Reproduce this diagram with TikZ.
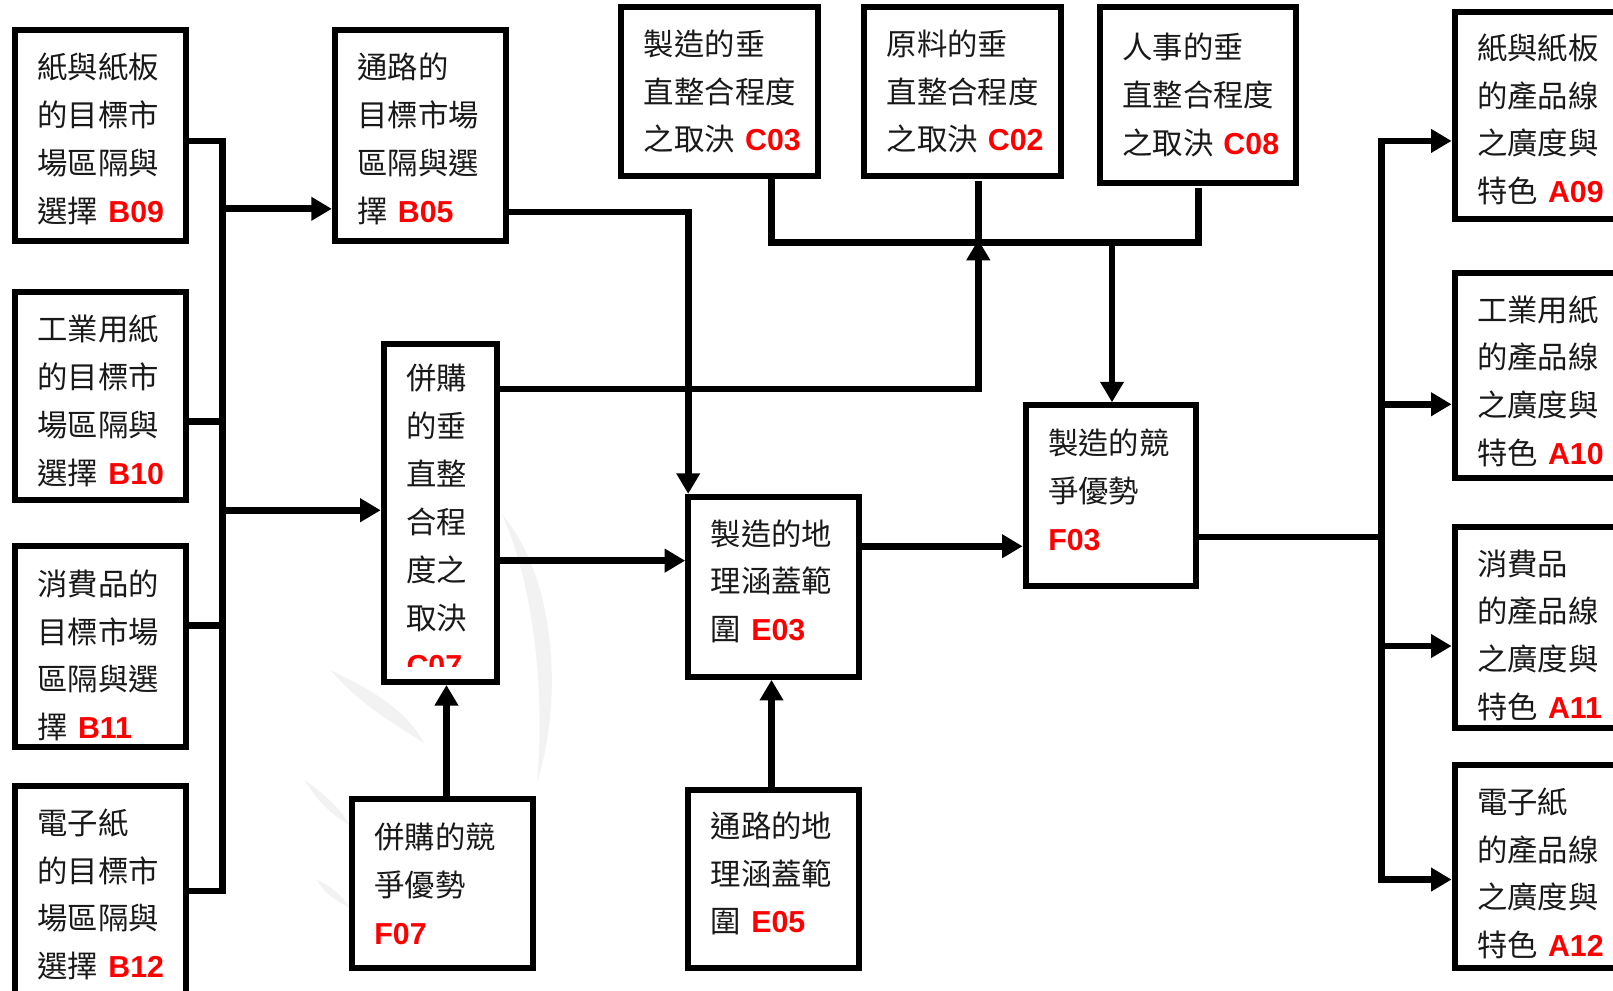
\documentclass[tikz,border=0pt]{standalone}
\usepackage{fontspec}
\setmainfont{Noto Sans CJK TC}
\newfontfamily\codefont{Liberation Sans}
\usetikzlibrary{arrows.meta}
\definecolor{codered}{RGB}{255,0,0}
\definecolor{txt}{RGB}{25,25,25}
\definecolor{wm}{RGB}{242,242,242}
\newcommand\code[1]{{\codefont\bfseries\color{codered}#1}}
\newcommand\hgt[1]{\rule{0pt}{#1pt}}
\newcommand\dpt[1]{\rule[-#1pt]{0pt}{#1pt}}
\tikzset{
  box/.style={draw, line width=5.8pt, rectangle, inner sep=0pt, align=left,
    font=\fontsize{29.5}{46.5}\selectfont, text=txt, fill=white},
  txtonly/.style={inner sep=0pt, align=left, font=\fontsize{29.5}{46.5}\selectfont, text=txt},
  link/.style={line width=6.5pt, line cap=rect},
  arr/.style={line width=6.5pt, -{Triangle[length=20pt,width=22pt]}},
}
\newcommand\mybox[6]{%
  \pgfmathsetmacro\bw{#4-#2}\pgfmathsetmacro\bh{#5-#3}\pgfmathsetmacro\tw{#4-#2-44}%
  \node[box, minimum width=\bw pt, minimum height=\bh pt, text width=\tw pt] (#1) at ({(#2+#4)/2},{(#3+#5)/2}) {#6};}
\begin{document}
\begin{tikzpicture}[x=1pt,y=-1pt]
\useasboundingbox (0,0) rectangle (1568,963);
\clip (0,0) rectangle (1568,963);
\fill[white] (0,0) rectangle (1568,963);
% faint watermark
\fill[wm] (488,500) .. controls (540,560) and (548,680) .. (522,760)
  .. controls (530,680) and (520,570) .. (488,500) -- cycle;
\fill[wm] (322,652) .. controls (360,670) and (395,690) .. (412,722)
  .. controls (385,705) and (350,685) .. (322,652) -- cycle;
\fill[wm] (296,758) .. controls (315,772) and (330,785) .. (340,802)
  .. controls (322,792) and (308,778) .. (296,758) -- cycle;
\fill[wm] (308,855) .. controls (322,862) and (332,870) .. (340,882)
  .. controls (326,876) and (315,868) .. (308,855) -- cycle;
% boxes
\mybox{B09}{14.5}{29}{181}{234}{\hgt{32}紙與紙板\\的目標市\\場區隔與\\選擇~\code{B09}}
\mybox{B05}{325.5}{29}{492}{234}{\hgt{32}通路的\\目標市場\\區隔與選\\擇~\code{B05}}
\mybox{B10}{14.5}{284}{181}{486}{\hgt{34}工業用紙\\的目標市\\場區隔與\\選擇~\code{B10}}
\mybox{B11}{14.5}{531}{181}{726}{\hgt{42}消費品的\\目標市場\\區隔與選\\擇~\code{B11}}
\mybox{B12}{14.5}{764}{181}{975}{電子紙\\的目標市\\場區隔與\\選擇~\code{B12}}
\node[box, minimum width=110pt, minimum height=329pt] (C07) at (428,498.5) {};
\begin{scope}
\clip (376,337) rectangle (480,648);
\node[txtonly, text width=80pt, anchor=base west] (C07t) at (395,379) {併購\\的垂\\直整\\合程\\度之\\取決\\\code{C07}};
\end{scope}
\mybox{F07}{342}{777}{518}{941}{併購的競\\爭優勢\\\code{F07}}
\mybox{C03}{604}{7}{795}{171}{製造的垂\\直整合程度\\之取決~\code{C03}}
\mybox{C02}{840}{7}{1031}{171}{原料的垂\\直整合程度\\之取決~\code{C02}}
\mybox{C08}{1069}{7}{1260}{178}{人事的垂\\直整合程度\\之取決~\code{C08}}
\mybox{E03}{669}{483}{835}{658}{製造的地\\理涵蓋範\\圍~\code{E03}\dpt{13}}
\mybox{E05}{669}{768}{835}{941}{通路的地\\理涵蓋範\\圍~\code{E05}\dpt{13}}
\mybox{F03}{997}{394}{1163}{570}{製造的競\\爭優勢\\\code{F03}\dpt{12}}
\mybox{A09}{1414}{12}{1600}{213}{\hgt{32}紙與紙板\\的產品線\\之廣度與\\特色~\code{A09}}
\mybox{A10}{1414}{265}{1600}{465}{\hgt{36}工業用紙\\的產品線\\之廣度與\\特色~\code{A10}}
\mybox{A11}{1414}{512}{1600}{708}{\hgt{40}消費品\\的產品線\\之廣度與\\特色~\code{A11}}
\mybox{A12}{1414}{744}{1600}{941}{\hgt{38}電子紙\\的產品線\\之廣度與\\特色~\code{A12}}
% left bus
\coordinate (lb1) at (216,137);
\coordinate (lb2) at (216,410);
\coordinate (lb3) at (216,608);
\coordinate (lb4) at (216,866);
\coordinate (la1) at (216,203);
\coordinate (la2) at (216,496);
\draw[link] (B09.east |- lb1) -- (lb1) -- (lb4) -- (B12.east |- lb4);
\draw[link] (B10.east |- lb2) -- (lb2);
\draw[link] (B11.east |- lb3) -- (lb3);
\draw[arr] (la1) -- (B05.west |- la1);
\draw[arr] (la2) -- (C07.west |- la2);
% B05 to E03
\coordinate (r1) at (669,206);
\draw[arr] (B05.east |- r1) -- (r1) -- (r1 |- E03.north);
% C07 to E03
\coordinate (c7e) at (483,545);
\draw[arr] (C07.east |- c7e) -- (E03.west |- c7e);
% top bus
\coordinate (tb1) at (750,236);
\coordinate (tb2) at (951,236);
\coordinate (tb3) at (1165,236);
\coordinate (tb4) at (1081,236);
\coordinate (c7u) at (951,378);
\draw[link] (C03.south -| tb1) -- (tb1) -- (tb3) -- ([yshift=-5pt]C08.south -| tb3);
\draw[link] ([yshift=-5pt]C02.south -| tb2) -- (tb2);
\draw[arr] (C07.east |- c7u) -- (c7u) -- ([yshift=3pt]tb2);
\draw[arr] (tb4) -- (F03.north -| tb4);
% E03 to F03
\coordinate (ef) at (835,531);
\draw[arr] (E03.east |- ef) -- (F03.west |- ef);
% E05 to E03
\coordinate (e5) at (750,766);
\draw[arr] (E05.north -| e5) -- (E03.south -| e5);
% F07 to C07
\coordinate (f7) at (434,775);
\draw[arr] (F07.north -| f7) -- (C07.south -| f7);
% right bus
\coordinate (rb0) at (1343,522);
\coordinate (rb1) at (1343,137);
\coordinate (rb2) at (1343,393);
\coordinate (rb3) at (1343,628);
\coordinate (rb4) at (1343,855);
\draw[link] (F03.east |- rb0) -- (rb0);
\draw[link] (rb1) -- (rb4);
\draw[arr] (rb1) -- (A09.west |- rb1);
\draw[arr] (rb2) -- (A10.west |- rb2);
\draw[arr] (rb3) -- (A11.west |- rb3);
\draw[arr] (rb4) -- (A12.west |- rb4);
\end{tikzpicture}
\end{document}
